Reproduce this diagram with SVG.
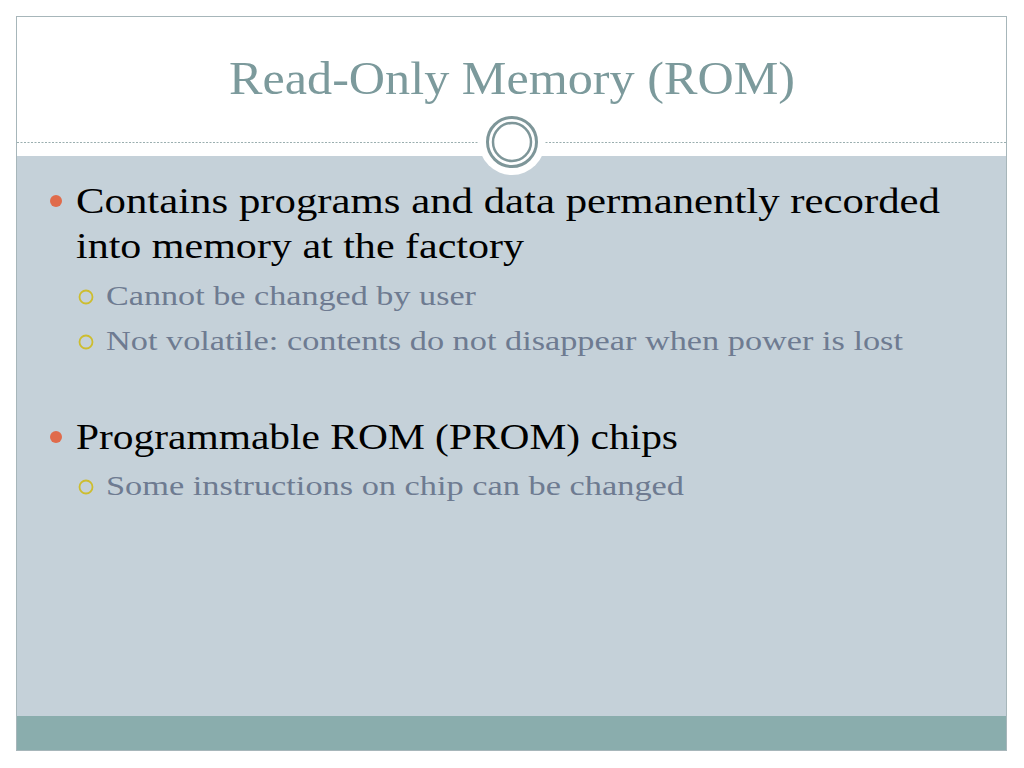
<svg xmlns="http://www.w3.org/2000/svg" width="1024" height="768" viewBox="0 0 1024 768">
<style>
.title{font-family:"Liberation Serif","DejaVu Serif",serif;font-size:46px;fill:#7C9A9C}
.l1{font-family:"Liberation Serif","DejaVu Serif",serif;font-size:36px;fill:#000}
.l2{font-family:"Liberation Serif","DejaVu Serif",serif;font-size:28px;fill:#6E7B91}
.dot{fill:#E06B4B}
.ring{fill:none;stroke:#CDBD2E;stroke-width:1.8}
</style>
<rect x="0" y="0" width="1024" height="768" fill="#fff"/>
<g id="frame">
<rect x="17" y="156" width="989" height="560" fill="#C5D1D9"/>
<rect x="17" y="716" width="989" height="34" fill="#8AADAD"/>
<rect x="16.5" y="16.5" width="990" height="734" fill="none" stroke="#A7B6BA" stroke-width="1"/>
<line x1="17" y1="142.5" x2="1006" y2="142.5" stroke="#9AAEAF" stroke-width="1" stroke-dasharray="2,1.5"/>
<circle cx="512" cy="142" r="33" fill="#fff"/>
<circle cx="512" cy="142" r="24.5" fill="none" stroke="#7E9699" stroke-width="3"/>
<circle cx="512" cy="142" r="19" fill="none" stroke="#7E9699" stroke-width="2.5"/>
</g>
<g id="title">
<text class="title" x="229" y="94" textLength="566" lengthAdjust="spacingAndGlyphs">Read-Only Memory (ROM)</text>
</g>
<g id="bullets">
<circle class="dot" cx="56" cy="201" r="6"/>
<text class="l1" x="76" y="213" textLength="864" lengthAdjust="spacingAndGlyphs">Contains programs and data permanently recorded</text>
<text class="l1" x="76" y="258" textLength="448" lengthAdjust="spacingAndGlyphs">into memory at the factory</text>
<circle class="ring" cx="86" cy="297" r="6.5"/>
<text class="l2" x="106" y="305" textLength="370" lengthAdjust="spacingAndGlyphs">Cannot be changed by user</text>
<circle class="ring" cx="86" cy="342" r="6.5"/>
<text class="l2" x="106" y="350" textLength="797" lengthAdjust="spacingAndGlyphs">Not volatile: contents do not disappear when power is lost</text>
<circle class="dot" cx="56" cy="437" r="6"/>
<text class="l1" x="76" y="449" textLength="602" lengthAdjust="spacingAndGlyphs">Programmable ROM (PROM) chips</text>
<circle class="ring" cx="86" cy="487" r="6.5"/>
<text class="l2" x="106" y="495" textLength="578" lengthAdjust="spacingAndGlyphs">Some instructions on chip can be changed</text>
</g>
</svg>
